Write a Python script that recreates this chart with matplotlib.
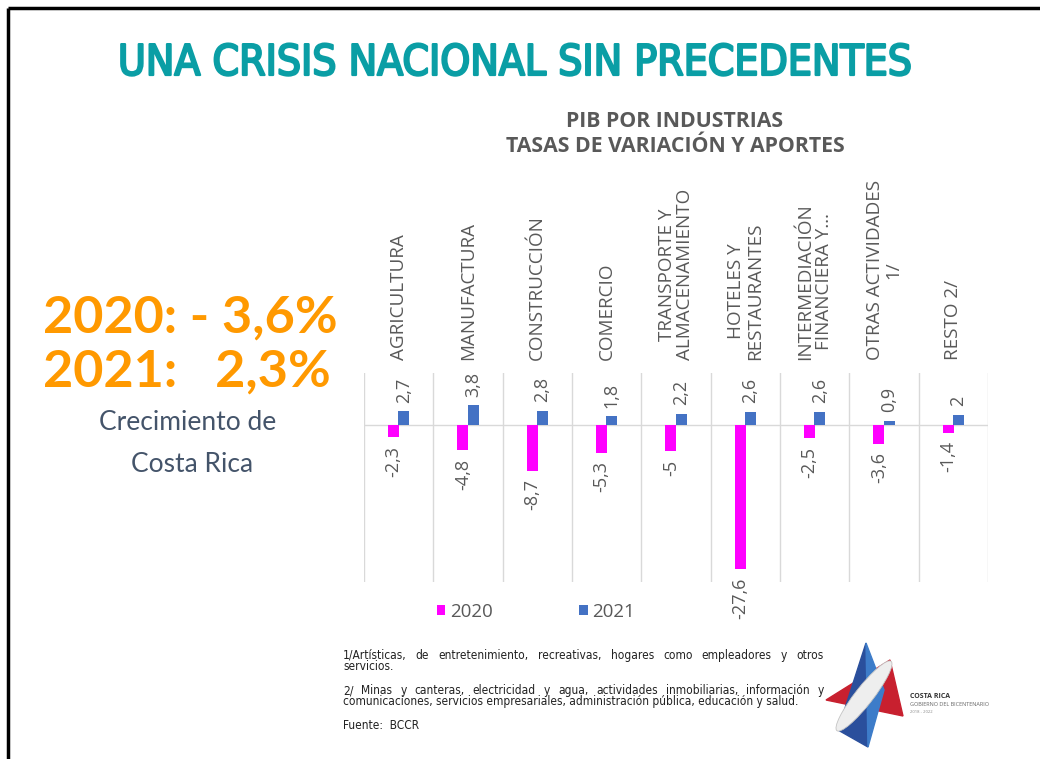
import matplotlib.pyplot as plt
import matplotlib.transforms as mtransforms
import matplotlib.patheffects as pe
from matplotlib import font_manager as fm
from matplotlib.patches import Polygon, Ellipse

# datos: PIB por industrias, tasas de variacion (%)
industrias = ["AGRICULTURA", "MANUFACTURA", "CONSTRUCCIÓN", "COMERCIO",
              "TRANSPORTE Y\nALMACENAMIENTO", "HOTELES Y\nRESTAURANTES",
              "INTERMEDIACIÓN\nFINANCIERA Y…", "OTRAS ACTIVIDADES\n1/", "RESTO 2/"]
var_2020 = [-2.3, -4.8, -8.7, -5.3, -5.0, -27.6, -2.5, -3.6, -1.4]
var_2021 = [2.7, 3.8, 2.8, 1.8, 2.2, 2.6, 2.6, 0.9, 2.0]
anios = ["2020", "2021"]

titulo = "UNA CRISIS NACIONAL SIN PRECEDENTES"
subtitulo = "PIB POR INDUSTRIAS\nTASAS DE VARIACIÓN Y APORTES"
resumen = ["2020: - 3,6%", "2021:   2,3%"]
nota1 = ["1/Artísticas, de entretenimiento, recreativas, hogares como empleadores y otros",
         "servicios."]
nota2 = ["2/ Minas y canteras, electricidad y agua, actividades inmobiliarias, información y",
         "comunicaciones, servicios empresariales, administración pública, educación y salud."]
fuente = "Fuente:  BCCR"

ROSA = "#ff00ff"
AZUL = "#4472c4"
GRIS = "#595959"
TEAL = "#0a9ea5"

# buscar alguna fuente estrecha (tipo Arial Narrow); si no hay, Liberation Sans
estrechas = [f for f in fm.fontManager.ttflist
             if "Narrow" in f.name or "Condensed" in f.name
             or f.stretch in ("condensed", "semi-condensed", "extra-condensed")]
estrechas.sort(key=lambda f: (f.name != "Liberation Sans Narrow", f.style != "normal",
                              str(f.weight) not in ("400", "normal")))
if estrechas:
    NARROW = fm.FontProperties(fname=estrechas[0].fname)
else:
    NARROW = fm.FontProperties(family="Liberation Sans")

fig = plt.figure(figsize=(10.4, 7.59), dpi=100)
fig.patch.set_facecolor("white")
rend = fig.canvas.get_renderer()

# capa de fondo en pixeles
bg = fig.add_axes([0, 0, 1, 1])
bg.set_xlim(0, 1040)
bg.set_ylim(759, 0)
bg.axis("off")

# marco de la diapositiva
bg.plot([8, 1040], [8, 8], color="black", lw=2.5, solid_capstyle="butt")
bg.plot([8, 8], [8, 759], color="black", lw=2.5, solid_capstyle="butt")


def ajustar(t, ancho):
    # escala el tamano de letra para que el texto ocupe 'ancho' pixeles
    w = t.get_window_extent(rend).width
    t.set_fontsize(t.get_fontsize() * ancho / w)


tt = bg.text(515, 63, titulo, color=TEAL, fontproperties=NARROW,
             ha="center", va="center",
             path_effects=[pe.withStroke(linewidth=1.6, foreground=TEAL)])
tt.set_fontsize(30)
ajustar(tt, 793)

bg.text(675, 134, subtitulo, color=GRIS, fontsize=15.3, family="Open Sans",
        fontweight="bold", ha="center", va="center", linespacing=1.3)

for k, yy in enumerate([318, 372]):
    bg.text(43, yy, resumen[k], color="#ff9900", fontsize=37.5, family="Lato",
            fontweight="bold", ha="left", va="center")
bg.text(188, 423, "Crecimiento de", color="#44546a", fontsize=19, family="Lato",
        ha="center", va="center")
bg.text(192, 464, "Costa Rica", color="#44546a", fontsize=19, family="Lato",
        ha="center", va="center")

# grafico de barras
ax = fig.add_axes([364 / 1040, 1 - 582 / 759, 624 / 1040, 209 / 759])
x = list(range(len(industrias)))
w = 0.155
b1 = ax.bar([i - 0.075 for i in x], var_2020, w, color=ROSA, label=anios[0], zorder=3)
b2 = ax.bar([i + 0.075 for i in x], var_2021, w, color=AZUL, label=anios[1], zorder=3)
ax.set_xlim(-0.5, len(industrias) - 0.5)
ax.set_ylim(-30, 10)
for i in range(len(industrias) + 1):
    ax.axvline(i - 0.5, color="#d9d9d9", lw=1, zorder=1)
ax.axhline(0, color="#d9d9d9", lw=1, zorder=2)
ax.axis("off")

for bars in (b1, b2):
    for r in bars:
        v = r.get_height()
        txt = f"{v:g}".replace(".", ",")
        up = v >= 0
        ax.annotate(txt, (r.get_x() + r.get_width() / 2, v),
                    xytext=(0, 6 if up else -6), textcoords="offset points",
                    rotation=90, ha="center", va="bottom" if up else "top",
                    color=GRIS, fontsize=13, family="Open Sans")

# etiquetas de categorias arriba
tr = mtransforms.blended_transform_factory(ax.transData, bg.transData)
for i, nom in enumerate(industrias):
    ax.text(i, 360, nom, transform=tr, rotation=90, ha="center", va="bottom",
            multialignment="center", color=GRIS, fontsize=13.6, family="Open Sans",
            linespacing=1.05)

# leyenda
ax.legend(handles=[b1, b2], loc="upper left", bbox_to_anchor=(0.117, -0.1), ncol=2,
          frameon=False, handlelength=0.45, handleheight=0.45, handletextpad=0.25,
          columnspacing=4.6, borderpad=0, borderaxespad=0,
          prop={"family": "Open Sans", "size": 13.5}, labelcolor=GRIS)

# notas al pie (justificadas)
FS_NOTA = 8.6 if estrechas else 8.8


def justificar(linea, x0, x1, y):
    palabras = linea.split()
    ts = [bg.text(0, y, p, fontproperties=NARROW, color="#222222",
                  va="baseline", ha="left") for p in palabras]
    for t in ts:
        t.set_fontsize(FS_NOTA)
    anchos = [t.get_window_extent(rend).width for t in ts]
    hueco = (x1 - x0 - sum(anchos)) / (len(palabras) - 1)
    xx = x0
    for t, a in zip(ts, anchos):
        t.set_x(xx)
        xx += a + hueco


def nota(texto, y):
    t = bg.text(343, y, texto, fontproperties=NARROW, color="#222222", va="baseline")
    t.set_fontsize(FS_NOTA)


justificar(nota1[0], 343, 824, 659)
nota(nota1[1], 670)
justificar(nota2[0], 343, 824, 694)
nota(nota2[1], 705)
nota(fuente, 729)

# logo aproximado
bg.add_patch(Polygon([[826, 700], [903, 716], [890, 660]], closed=True,
                     color="#c8202f", zorder=2))
bg.add_patch(Polygon([[866, 643], [868, 747], [838, 730]], closed=True,
                     color="#2a4f9c", zorder=3))
bg.add_patch(Polygon([[866, 643], [884, 690], [868, 747]], closed=True,
                     color="#3d7cc9", zorder=3))
bg.add_patch(Ellipse((864, 696), 88, 18, angle=-52, facecolor="#eeeeee",
                     edgecolor="#c4c4c4", lw=0.6, zorder=4))
bg.text(910, 697, "COSTA RICA", fontsize=5, fontweight="bold", color="#333333",
        family="Open Sans", va="center")
bg.text(910, 705, "GOBIERNO DEL BICENTENARIO", fontsize=4, color="#666666",
        family="Open Sans", va="center")
bg.text(910, 712, "2018 - 2022", fontsize=3, color="#888888",
        family="Open Sans", va="center")

fig.savefig("out.png", dpi=100, facecolor="white")
